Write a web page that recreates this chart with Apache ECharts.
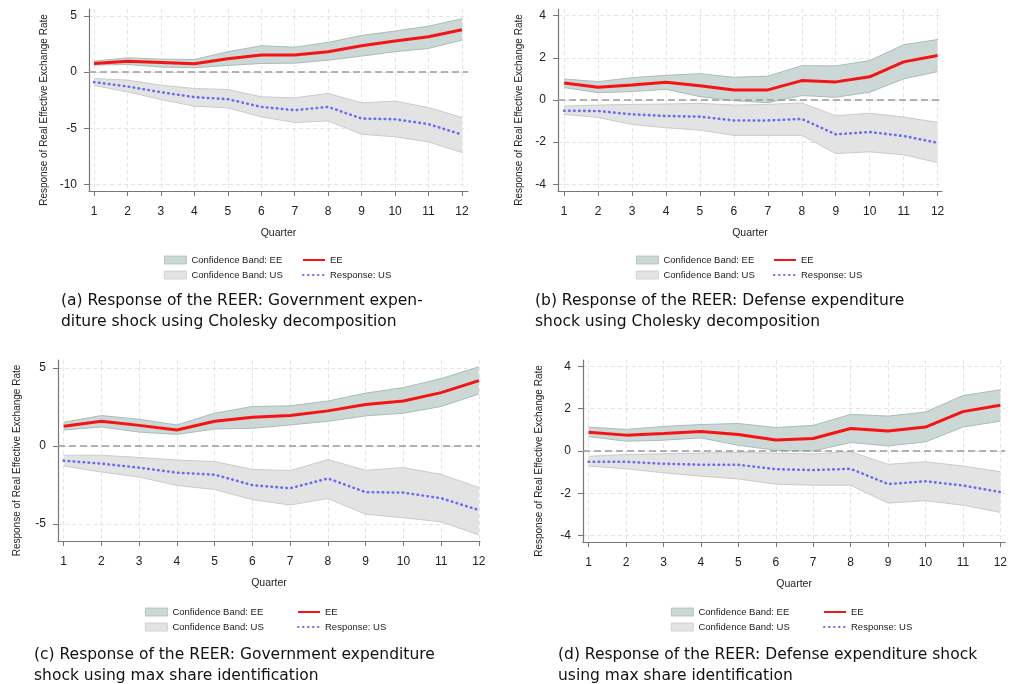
<!DOCTYPE html>
<html>
<head>
<meta charset="utf-8">
<script src="https://cdn.jsdelivr.net/npm/echarts@6/dist/echarts.min.js"></script>
<style>
html, body { margin: 0; padding: 0; background: #fff; }
#main { width: 1010px; height: 684px; }
</style>
</head>
<body>
<div id="main"></div>
<script>
var quarters = [1, 2, 3, 4, 5, 6, 7, 8, 9, 10, 11, 12];

// (a) government expenditure, Cholesky
var aEE   = [0.77, 0.98, 0.86, 0.74, 1.19, 1.52, 1.52, 1.82, 2.35, 2.77, 3.15, 3.78];
var aEEHi = [0.98, 1.28, 1.16, 1.13, 1.82, 2.35, 2.23, 2.65, 3.27, 3.66, 4.10, 4.76];
var aEELo = [0.63, 0.68, 0.45, 0.39, 0.60, 0.77, 0.80, 1.07, 1.43, 1.82, 2.11, 2.86];
var aUS   = [-0.89, -1.28, -1.79, -2.23, -2.41, -3.10, -3.39, -3.10, -4.14, -4.20, -4.64, -5.57];
var aUSHi = [-0.57, -0.71, -1.16, -1.46, -1.55, -2.20, -2.29, -1.90, -2.74, -2.59, -3.15, -4.05];
var aUSLo = [-1.19, -1.76, -2.44, -3.04, -3.18, -3.99, -4.49, -4.35, -5.54, -5.77, -6.22, -7.17];
var aTicks = [-10, -5, 0, 5];

// (b) defense expenditure, Cholesky
var bEE   = [0.81, 0.60, 0.71, 0.84, 0.68, 0.48, 0.48, 0.92, 0.86, 1.10, 1.81, 2.11];
var bEEHi = [1.00, 0.87, 1.06, 1.17, 1.25, 1.08, 1.13, 1.63, 1.62, 1.87, 2.62, 2.87];
var bEELo = [0.59, 0.35, 0.40, 0.51, 0.16, -0.03, -0.13, 0.21, 0.13, 0.37, 1.00, 1.35];
var bUS   = [-0.51, -0.52, -0.68, -0.76, -0.79, -0.97, -0.97, -0.90, -1.63, -1.52, -1.71, -2.03];
var bUSHi = [-0.29, -0.24, -0.21, -0.19, -0.16, -0.24, -0.21, -0.14, -0.75, -0.63, -0.81, -1.06];
var bUSLo = [-0.68, -0.83, -1.16, -1.32, -1.43, -1.68, -1.68, -1.68, -2.54, -2.46, -2.60, -2.97];
var bTicks = [-4, -2, 0, 2, 4];

// (c) government expenditure, max share
var cEE   = [1.25, 1.57, 1.31, 1.01, 1.57, 1.83, 1.94, 2.24, 2.65, 2.87, 3.41, 4.18];
var cEEHi = [1.51, 1.94, 1.70, 1.34, 2.09, 2.52, 2.56, 2.87, 3.38, 3.73, 4.31, 5.06];
var cEELo = [1.01, 1.21, 0.88, 0.73, 1.08, 1.12, 1.34, 1.57, 1.92, 2.09, 2.52, 3.32];
var cUS   = [-0.95, -1.14, -1.40, -1.72, -1.85, -2.52, -2.72, -2.09, -2.97, -3.00, -3.36, -4.12];
var cUSHi = [-0.60, -0.60, -0.75, -0.91, -1.01, -1.51, -1.59, -0.88, -1.57, -1.40, -1.83, -2.67];
var cUSLo = [-1.29, -1.68, -2.00, -2.54, -2.80, -3.45, -3.79, -3.38, -4.38, -4.61, -4.87, -5.71];
var cTicks = [-5, 0, 5];

// (d) defense expenditure, max share
var dEE   = [0.89, 0.75, 0.83, 0.92, 0.78, 0.52, 0.59, 1.06, 0.94, 1.13, 1.86, 2.16];
var dEEHi = [1.13, 1.02, 1.16, 1.25, 1.30, 1.11, 1.21, 1.73, 1.65, 1.84, 2.62, 2.89];
var dEELo = [0.68, 0.46, 0.51, 0.62, 0.27, 0.03, 0.00, 0.40, 0.24, 0.43, 1.13, 1.41];
var dUS   = [-0.51, -0.51, -0.60, -0.65, -0.65, -0.86, -0.90, -0.84, -1.56, -1.43, -1.63, -1.94];
var dUSHi = [-0.25, -0.17, -0.13, -0.10, -0.06, -0.11, -0.14, -0.03, -0.63, -0.51, -0.71, -0.98];
var dUSLo = [-0.71, -0.84, -1.03, -1.19, -1.32, -1.57, -1.62, -1.62, -2.46, -2.35, -2.56, -2.90];
var dTicks = [-4, -2, 0, 2, 4];

var bandNames = ['Confidence Band: EE', 'Confidence Band: US'];
var lineNames = ['EE', 'Response: US'];
var xName = 'Quarter';
var yName = 'Response of Real Effective Exchange Rate';
var captions = [
    '(a) Response of the REER: Government expen-\nditure shock using Cholesky decomposition',
    '(b) Response of the REER: Defense expenditure\nshock using Cholesky decomposition',
    '(c) Response of the REER: Government expenditure\nshock using max share identification',
    '(d) Response of the REER: Defense expenditure shock\nusing max share identification'
];

// layout of the four panels (pixels)
var panels = [
    {ee: aEE, eeHi: aEEHi, eeLo: aEELo, us: aUS, usHi: aUSHi, usLo: aUSLo, ticks: aTicks,
     grid: {left: 89, top: 9, width: 379, height: 182}, x: [0.85, 12.18], y: [-10.6, 5.63],
     legBand: [164, 255], legLine: [302, 255], cap: [61, 290], yGap: 40},
    {ee: bEE, eeHi: bEEHi, eeLo: bEELo, us: bUS, usHi: bUSHi, usLo: bUSLo, ticks: bTicks,
     grid: {left: 558, top: 9, width: 384, height: 182}, x: [0.82, 12.13], y: [-4.32, 4.32],
     legBand: [636, 255], legLine: [773, 255], cap: [535, 290], yGap: 34},
    {ee: cEE, eeHi: cEEHi, eeLo: cEELo, us: cUS, usHi: cUSHi, usLo: cUSLo, ticks: cTicks,
     grid: {left: 58, top: 360, width: 422, height: 181}, x: [0.85, 12.03], y: [-6.1, 5.5],
     legBand: [145, 607], legLine: [297, 607], cap: [34, 644], yGap: 36},
    {ee: dEE, eeHi: dEEHi, eeLo: dEELo, us: dUS, usHi: dUSHi, usLo: dUSLo, ticks: dTicks,
     grid: {left: 583, top: 360, width: 427, height: 182}, x: [0.85, 12.13], y: [-4.3, 4.3],
     legBand: [671, 607], legLine: [823, 607], cap: [558, 644], yGap: 39}
];

var eeFill = '#cbd8d6', eeEdge = '#a9bdba';
var usFill = '#e3e3e3', usEdge = '#cbcbcb';
var red = '#f51414', blue = '#6b6bf3';
var axisColor = '#777777';
var font = 'Liberation Sans';

function pairs(ys) {
    return quarters.map(function (q, i) { return [q, ys[i]]; });
}

// shaded confidence band, drawn once as a polygon through the axis scales
function band(k, name, lo, hi, fill, edge) {
    return {
        name: name, type: 'custom', coordinateSystem: 'cartesian2d',
        xAxisIndex: k, yAxisIndex: k, silent: true,
        itemStyle: {color: fill},
        encode: {x: 0, y: [1, 2]},
        data: quarters.map(function (q, i) { return [q, lo[i], hi[i]]; }),
        renderItem: function (params, api) {
            if (params.dataIndex !== 0) return;
            var top = [], bottom = [];
            for (var i = 0; i < quarters.length; i++) {
                top.push(api.coord([quarters[i], hi[i]]));
                bottom.push(api.coord([quarters[i], lo[i]]));
            }
            return {
                type: 'group',
                children: [
                    {type: 'polygon', shape: {points: top.concat(bottom.slice().reverse())}, style: {fill: fill}},
                    {type: 'polyline', shape: {points: top}, style: {stroke: edge, lineWidth: 1, fill: null}},
                    {type: 'polyline', shape: {points: bottom}, style: {stroke: edge, lineWidth: 1, fill: null}}
                ]
            };
        }
    };
}

var grids = [], xAxes = [], yAxes = [], series = [], legends = [], titles = [];

panels.forEach(function (p, k) {
    grids.push(p.grid);
    xAxes.push({
        gridIndex: k, type: 'value', min: p.x[0], max: p.x[1],
        name: xName, nameLocation: 'middle', nameGap: 37,
        nameTextStyle: {fontSize: 10.5, color: '#222', fontFamily: font},
        axisLine: {show: true, onZero: false, lineStyle: {color: axisColor, width: 1.2}},
        axisTick: {show: true, length: 5, customValues: quarters, lineStyle: {color: axisColor}},
        axisLabel: {customValues: quarters, fontSize: 12, color: '#222', margin: 15, fontFamily: font},
        splitLine: {show: true, lineStyle: {color: '#e4e4e4', type: [4, 3], width: 1}}
    });
    yAxes.push({
        gridIndex: k, type: 'value', min: p.y[0], max: p.y[1],
        name: yName, nameLocation: 'middle', nameGap: p.yGap,
        nameTextStyle: {fontSize: 10, color: '#222', fontFamily: font, padding: [0, 20, 0, 0]},
        axisLine: {show: true, onZero: false, lineStyle: {color: axisColor, width: 1.2}},
        axisTick: {show: true, length: 5, customValues: p.ticks, lineStyle: {color: axisColor}},
        axisLabel: {customValues: p.ticks, fontSize: 12, color: '#222', margin: 12, fontFamily: font},
        splitLine: {show: true, lineStyle: {color: '#e4e4e4', type: [4, 3], width: 1}}
    });

    series.push(band(k, bandNames[1], p.usLo, p.usHi, usFill, usEdge));
    series.push(band(k, bandNames[0], p.eeLo, p.eeHi, eeFill, eeEdge));
    series.push({
        name: lineNames[0], type: 'line', xAxisIndex: k, yAxisIndex: k, symbol: 'none',
        itemStyle: {color: red},
        lineStyle: {color: red, width: 3},
        markLine: {
            silent: true, symbol: 'none', label: {show: false},
            lineStyle: {color: '#9a9a9a', type: [7, 4], width: 1.5},
            data: [{yAxis: 0}]
        },
        data: pairs(p.ee)
    });
    series.push({
        name: lineNames[1], type: 'line', xAxisIndex: k, yAxisIndex: k, symbol: 'none',
        itemStyle: {color: blue},
        lineStyle: {color: blue, width: 2.6, type: [0.5, 4.5], cap: 'round'},
        data: pairs(p.us)
    });

    legends.push({
        left: p.legBand[0], top: p.legBand[1], orient: 'vertical', padding: 0,
        itemGap: 5, itemWidth: 22, itemHeight: 8, selectedMode: false,
        textStyle: {fontSize: 9.5, color: '#222', fontFamily: font},
        data: [
            {name: bandNames[0], icon: 'rect', itemStyle: {color: eeFill, borderColor: eeEdge, borderWidth: 0.8}},
            {name: bandNames[1], icon: 'rect', itemStyle: {color: usFill, borderColor: usEdge, borderWidth: 0.8}}
        ]
    });
    legends.push({
        left: p.legLine[0], top: p.legLine[1], orient: 'vertical', padding: 0,
        itemGap: 5, itemWidth: 22, itemHeight: 8, selectedMode: false,
        itemStyle: {opacity: 0},
        textStyle: {fontSize: 9.5, color: '#222', fontFamily: font},
        data: lineNames
    });

    titles.push({
        text: captions[k], left: p.cap[0], top: p.cap[1], padding: 0,
        textStyle: {fontSize: 15.5, lineHeight: 21.5, fontWeight: 'normal', color: '#111', fontFamily: 'DejaVu Sans'}
    });
});

var myChart = echarts.init(document.getElementById('main'));
var option = {
    animation: false,
    backgroundColor: '#fff',
    title: titles,
    legend: legends,
    grid: grids,
    xAxis: xAxes,
    yAxis: yAxes,
    series: series
};
myChart.setOption(option);
</script>
</body>
</html>
